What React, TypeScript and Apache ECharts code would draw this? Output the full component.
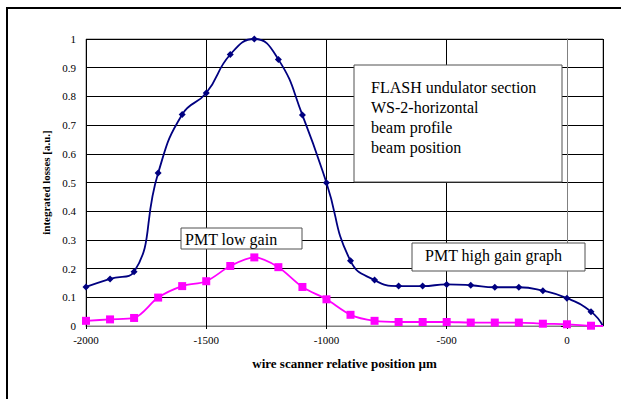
import React, { useEffect, useRef } from "react";
import * as echarts from "echarts";

const positions = [-2000, -1900, -1800, -1700, -1600, -1500, -1400, -1300, -1200, -1100, -1000, -900, -800, -700, -600, -500, -400, -300, -200, -100, 0, 100, 150];
const highGain = [0.136, 0.164, 0.189, 0.533, 0.737, 0.812, 0.946, 1.0, 0.929, 0.735, 0.499, 0.227, 0.16, 0.139, 0.139, 0.145, 0.142, 0.135, 0.135, 0.123, 0.097, 0.05, 0.0];
const lowGain = [0.018, 0.023, 0.028, 0.099, 0.139, 0.156, 0.209, 0.239, 0.205, 0.136, 0.093, 0.039, 0.018, 0.014, 0.014, 0.014, 0.012, 0.012, 0.012, 0.008, 0.006, 0.001, 0.0];
const infoLines = ["FLASH undulator section", "WS-2-horizontal", "beam profile", "beam position"];
const lowLabel = "PMT low gain";
const highLabel = "PMT high gain graph";
const xTitle = "wire scanner relative position µm";
const yTitle = "integrated losses [a.u.]";

const FONT = "Times New Roman, Liberation Serif, DejaVu Serif, serif";

function toData(vals: number[]) {
  return positions.map((x, i) => {
    const item: any = { value: [x, vals[i]] };
    if (x > 100) item.symbol = "none";
    return item;
  });
}

export default function App() {
  const ref = useRef<HTMLDivElement>(null);
  useEffect(() => {
    document.body.style.margin = "0";
    const chart = echarts.init(ref.current!, null, { renderer: "svg" });
    chart.setOption({
      animation: false,
      backgroundColor: "#fff",
      textStyle: { fontFamily: FONT },
      grid: { left: 86, right: 18, top: 39, bottom: 73, show: true, borderColor: "#808080", borderWidth: 1 },
      xAxis: {
        type: "value",
        min: -2000,
        max: 150,
        interval: 500,
        name: xTitle,
        nameLocation: "middle",
        nameGap: 31,
        nameTextStyle: { fontFamily: FONT, fontSize: 13, fontWeight: "bold", color: "#000" },
        axisLine: { show: true, lineStyle: { color: "#808080", width: 1 } },
        axisTick: { show: true, length: 3, lineStyle: { color: "#000" } },
        axisLabel: {
          fontFamily: FONT,
          fontSize: 11,
          color: "#000",
          margin: 8,
          showMaxLabel: false,
          formatter: (v: number) => (v % 500 === 0 ? String(v) : ""),
        },
        splitLine: { show: true, lineStyle: { color: "#000", width: 1 } },
      },
      yAxis: {
        type: "value",
        min: 0,
        max: 1,
        interval: 0.1,
        name: yTitle,
        nameLocation: "middle",
        nameGap: 29,
        nameTextStyle: { fontFamily: FONT, fontSize: 11, fontWeight: "bold", color: "#000" },
        axisLine: { show: true, lineStyle: { color: "#808080", width: 1 } },
        axisTick: { show: true, length: 6, lineStyle: { color: "#000" } },
        axisLabel: { fontFamily: FONT, fontSize: 11, color: "#000", margin: 10 },
        splitLine: { show: true, lineStyle: { color: "#000", width: 1 } },
      },
      series: [
        {
          type: "line",
          data: toData(highGain),
          smooth: 0.5,
          symbol: "diamond",
          symbolSize: 7,
          itemStyle: { color: "#000080" },
          lineStyle: { color: "#000080", width: 1.8 },
          clip: true,
        },
        {
          type: "line",
          data: toData(lowGain),
          smooth: 0.3,
          symbol: "rect",
          symbolSize: 8,
          itemStyle: { color: "#FF00FF" },
          lineStyle: { color: "#FF00FF", width: 1.8 },
          clip: true,
        },
      ],
      graphic: [
        { type: "rect", shape: { x: 7, y: 8, width: 800, height: 600 }, style: { fill: "none", stroke: "#000", lineWidth: 2 }, silent: true },
        { type: "rect", shape: { x: 354, y: 65, width: 208, height: 117 }, style: { fill: "#fff", stroke: "#505050", lineWidth: 1 }, z: 10 },
        ...infoLines.map((t, i) => ({
          type: "text",
          x: 371,
          y: 87 + i * 20,
          style: { text: t, fontFamily: FONT, fontSize: 16, fill: "#000", verticalAlign: "middle" },
          z: 11,
        })),
        { type: "rect", shape: { x: 181, y: 228, width: 121, height: 21 }, style: { fill: "#fff", stroke: "#505050", lineWidth: 1 }, z: 10 },
        { type: "text", x: 185, y: 239, style: { text: lowLabel, fontFamily: FONT, fontSize: 16, fill: "#000", verticalAlign: "middle" }, z: 11 },
        { type: "rect", shape: { x: 412, y: 243, width: 173, height: 28 }, style: { fill: "#fff", stroke: "#505050", lineWidth: 1 }, z: 10 },
        { type: "text", x: 425, y: 255, style: { text: highLabel, fontFamily: FONT, fontSize: 16, fill: "#000", verticalAlign: "middle" }, z: 11 },
      ],
    });
    return () => chart.dispose();
  }, []);
  return <div ref={ref} style={{ position: "fixed", left: 0, top: 0, width: 621, height: 399 }} />;
}
